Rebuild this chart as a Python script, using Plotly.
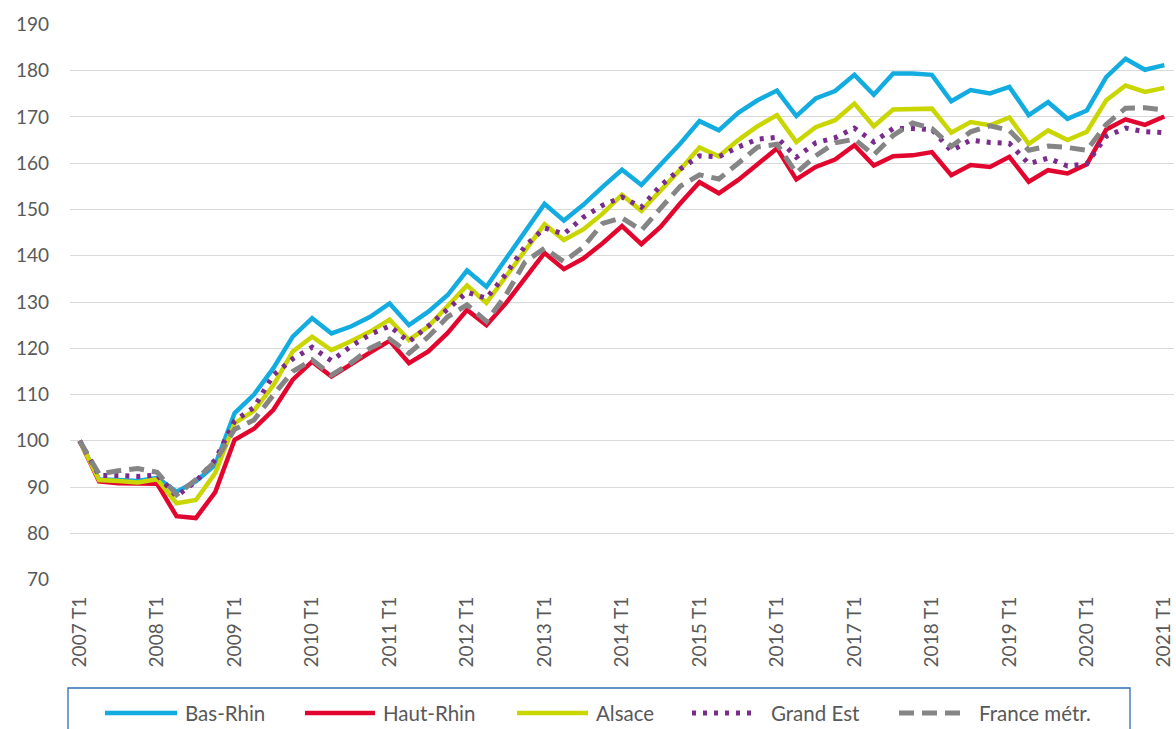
import plotly.graph_objects as go

quarters = [f"{y} T{q}" for y in range(2007, 2022) for q in range(1, 5)][:57]
tick_labels = [f"{y} T1" for y in range(2007, 2022)]

bas_rhin = [100, 91.6, 91.5, 91.3, 92.0, 89.0, 91.2, 94.8, 106.0, 110.0, 115.7, 122.5, 126.5, 123.2, 124.7, 126.8,
            129.7, 125.0, 127.9, 131.5, 136.8, 133.3, 139.3, 145.3, 151.2, 147.6, 151.0, 154.9, 158.6, 155.3, 159.6,
            164.2, 169.1, 167.1, 170.9, 173.6, 175.7, 170.2, 174.0, 175.6, 179.1, 174.8, 179.4, 179.4, 179.1, 173.4,
            175.8, 175.1, 176.5, 170.4, 173.2, 169.6, 171.4, 178.6, 182.6, 180.2, 181.2]
haut_rhin = [100, 91.2, 90.8, 90.7, 90.7, 83.7, 83.3, 88.9, 100.2, 102.6, 106.7, 113.2, 117.1, 113.9, 116.6, 119.1,
             121.6, 116.8, 119.3, 123.3, 128.3, 125.0, 129.7, 135.1, 140.6, 137.1, 139.4, 142.7, 146.4, 142.5, 146.3,
             151.3, 155.9, 153.5, 156.4, 159.8, 163.2, 156.5, 159.2, 160.8, 163.9, 159.5, 161.5, 161.7, 162.4, 157.4,
             159.6, 159.2, 161.4, 156.0, 158.5, 157.8, 159.8, 167.3, 169.5, 168.3, 170.1]
alsace = [100, 91.5, 91.3, 91.0, 91.7, 86.5, 87.2, 93.0, 103.8, 106.5, 112.0, 119.3, 122.5, 119.6, 121.5, 123.6,
          126.2, 121.8, 124.7, 129.0, 133.6, 129.8, 135.5, 140.9, 146.8, 143.4, 145.7, 149.1, 153.2, 149.7, 154.1,
          158.6, 163.4, 161.5, 165.0, 168.0, 170.4, 164.6, 167.8, 169.3, 172.9, 168.0, 171.6, 171.7, 171.8, 166.6,
          168.9, 168.2, 169.9, 164.2, 167.1, 165.0, 166.8, 173.6, 176.8, 175.4, 176.3]
grand_est = [100, 92.5, 92.5, 92.3, 92.6, 88.0, 91.2, 95.9, 104.3, 107.2, 114.2, 117.7, 120.2, 117.3, 120.4, 123.0,
             124.8, 121.4, 124.8, 128.6, 132.1, 130.8, 136.0, 142.1, 146.0, 144.7, 148.3, 150.9, 152.7, 150.5, 155.2,
             158.7, 161.6, 161.4, 163.5, 165.2, 165.6, 161.3, 164.4, 165.5, 167.6, 164.6, 167.5, 167.5, 167.3, 162.7,
             165.0, 164.5, 164.3, 159.9, 161.1, 159.4, 159.9, 165.8, 167.6, 166.8, 166.6]
france = [100, 92.8, 93.5, 94.0, 93.2, 88.3, 91.6, 95.5, 102.5, 104.5, 109.9, 115.0, 117.5, 114.2, 116.8, 120.0,
          122.0, 118.9, 122.5, 126.8, 129.4, 125.8, 131.5, 138.7, 141.6, 138.7, 141.9, 147.0, 148.2, 145.5, 150.3,
          155.0, 157.5, 156.6, 160.0, 163.5, 164.1, 157.9, 161.6, 164.4, 165.2, 161.8, 166.0, 168.7, 167.5, 163.6,
          166.8, 168.1, 167.1, 162.8, 163.7, 163.4, 162.8, 168.4, 171.9, 172.0, 171.5]

series_names = ["Bas-Rhin", "Haut-Rhin", "Alsace", "Grand Est", "France métr."]
series_values = [bas_rhin, haut_rhin, alsace, grand_est, france]
colors = ["#12ACE0", "#E2062F", "#C9D600", "#7A2B8C", "#858585"]
dashes = ["solid", "solid", "solid", "4px,7px", "15px,8px"]
widths = [4.5, 4.5, 4.5, 5, 5]

W, H = 1176, 729
L, R, T, B = 70, 2, 24, 149
FONT = "Lato"
TXT = "#595959"

x_idx = list(range(len(quarters)))

fig = go.Figure()
for name, vals, c, d, w in zip(series_names, series_values, colors, dashes, widths):
    fig.add_trace(go.Scatter(x=x_idx, y=vals, mode="lines", name=name,
                             line=dict(color=c, width=w, dash=d), showlegend=False,
                             hovertext=quarters))

# custom legend (pixel positions -> paper coords)
pw = W - L - R
ph = H - T - B
def px(x):
    return (x - L) / pw
def py(y):
    return (H - B - y) / ph

shapes = [dict(type="rect", xref="paper", yref="paper", x0=px(68), x1=px(1130), y0=py(740), y1=py(688),
               line=dict(color="#2E6DB4", width=1.3), fillcolor="rgba(0,0,0,0)")]
annotations = []
leg = [(105, 177, 183), (305, 375, 381), (517, 588, 594), (692, 758, 769), (899, 966, 977)]
ly = 713
for (x0, x1, tx), name, c, d, w in zip(leg, series_names, colors, dashes, widths):
    shapes.append(dict(type="line", xref="paper", yref="paper", x0=px(x0), x1=px(x1), y0=py(ly), y1=py(ly),
                       line=dict(color=c, width=w, dash=d)))
    annotations.append(dict(xref="paper", yref="paper", x=px(tx), y=py(ly), text=name, showarrow=False,
                            xanchor="left", yanchor="middle", font=dict(family=FONT, size=20.5, color=TXT)))

fig.update_layout(
    width=W, height=H,
    margin=dict(l=L, r=R, t=T, b=B),
    paper_bgcolor="white", plot_bgcolor="white",
    shapes=shapes, annotations=annotations,
    font=dict(family=FONT, size=19, color=TXT),
)
fig.update_xaxes(range=[-0.5, 56.5], tickmode="array", tickvals=list(range(0, 57, 4)), ticktext=tick_labels,
                 tickangle=-90, showgrid=False, zeroline=False, showline=False, ticks="",
                 tickfont=dict(family=FONT, size=19, color=TXT), ticklabelstandoff=12)
fig.update_yaxes(range=[69.9, 190.1], dtick=10, tick0=70, showgrid=True, gridcolor="#D9D9D9", gridwidth=1.3,
                 zeroline=False, showline=False, ticks="", tickfont=dict(family=FONT, size=19, color=TXT),
                 ticklabelstandoff=20)

fig.write_html("out.html", config={"displayModeBar": False},
               post_script="document.body.style.margin='0';")
